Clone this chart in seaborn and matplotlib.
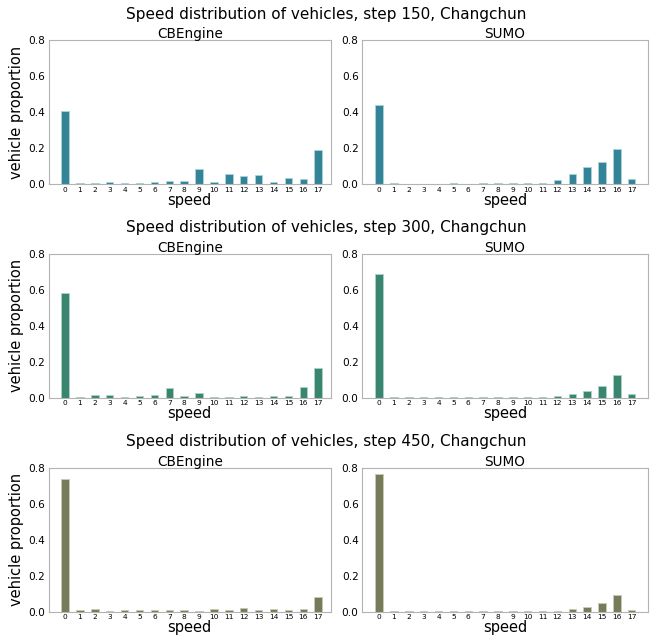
import numpy as np
import pandas as pd
import seaborn as sns
import matplotlib
matplotlib.use("Agg")
import matplotlib.pyplot as plt

# speed bins
speeds = list(range(18))
steps = [150, 300, 450]
engines = ["CBEngine", "SUMO"]

# proportions
cbengine_150 = [0.404, 0.006, 0.004, 0.013, 0.007, 0.005, 0.011, 0.019, 0.015, 0.082,
                0.013, 0.054, 0.043, 0.052, 0.009, 0.035, 0.030, 0.186]
sumo_150 = [0.441, 0.003, 0.002, 0.001, 0.002, 0.003, 0.001, 0.003, 0.003, 0.004,
            0.003, 0.004, 0.020, 0.058, 0.093, 0.121, 0.193, 0.026]
cbengine_300 = [0.584, 0.006, 0.013, 0.015, 0.004, 0.011, 0.015, 0.054, 0.009, 0.028,
                0.002, 0.006, 0.011, 0.006, 0.007, 0.007, 0.062, 0.166]
sumo_300 = [0.688, 0.003, 0.003, 0.002, 0.002, 0.003, 0.003, 0.002, 0.003, 0.003,
            0.003, 0.003, 0.009, 0.019, 0.039, 0.065, 0.125, 0.020]
cbengine_450 = [0.740, 0.007, 0.015, 0.004, 0.009, 0.007, 0.011, 0.007, 0.011, 0.006,
                0.017, 0.007, 0.020, 0.009, 0.013, 0.009, 0.015, 0.080]
sumo_450 = [0.763, 0.003, 0.002, 0.002, 0.002, 0.002, 0.002, 0.003, 0.002, 0.002,
            0.003, 0.004, 0.004, 0.015, 0.028, 0.050, 0.093, 0.011]

row_colors = ["#348497", "#3a8570", "#787b5a"]
edge_colors = ["#a9d3dc", "#abd3c3", "#c9cbb6"]

data = {
    (150, "CBEngine"): cbengine_150, (150, "SUMO"): sumo_150,
    (300, "CBEngine"): cbengine_300, (300, "SUMO"): sumo_300,
    (450, "CBEngine"): cbengine_450, (450, "SUMO"): sumo_450,
}

sns.set_style("white")
plt.rcParams["font.family"] = ["DejaVu Sans"]
plt.rcParams["text.color"] = "black"
plt.rcParams["axes.labelcolor"] = "black"
plt.rcParams["xtick.color"] = "black"
plt.rcParams["ytick.color"] = "black"

fig = plt.figure(figsize=(6.53, 6.41), dpi=100)

row_bottoms = [0.713, 0.3796, 0.0457]
col_lefts = [0.0746, 0.5544]
col_widths = [0.432, 0.438]
ax_h = 0.2246
xlims = [(-1.1, 17.85), (-1.15, 18.1)]
title_y = [0.978, 0.645, 0.311]

for r, step in enumerate(steps):
    fig.text(0.5, title_y[r], f"Speed distribution of vehicles, step {step}, Changchun",
             ha="center", va="center", fontsize=11)
    for c, eng in enumerate(engines):
        ax = fig.add_axes([col_lefts[c], row_bottoms[r], col_widths[c], ax_h])
        df = pd.DataFrame({"speed": speeds, "prop": data[(step, eng)]})
        sns.barplot(data=df, x="speed", y="prop", color=row_colors[r], width=0.5,
                    edgecolor=edge_colors[r], linewidth=0.6, saturation=1, ax=ax)
        ax.set_xlim(*xlims[c])
        ax.set_ylim(0, 0.8)
        ax.set_yticks([0, 0.2, 0.4, 0.6, 0.8])
        ax.set_yticklabels(["0.0", "0.2", "0.4", "0.6", "0.8"])
        ax.tick_params(axis="y", labelsize=7.6, length=1, width=0.5,
                       color="#b3b3b3", pad=1.5)
        ax.tick_params(axis="x", labelsize=5.3, length=0, pad=2)
        for s in ax.spines.values():
            s.set_color("#b3b3b3")
            s.set_linewidth(0.8)
        ax.set_title(eng, fontsize=9.8, pad=1.5)
        ax.set_xlabel("speed", fontsize=10.5, labelpad=0)
        if c == 0:
            ax.set_ylabel("vehicle proportion", fontsize=10.5, labelpad=3)
        else:
            ax.set_ylabel("")

fig.savefig("out.png", dpi=100)
